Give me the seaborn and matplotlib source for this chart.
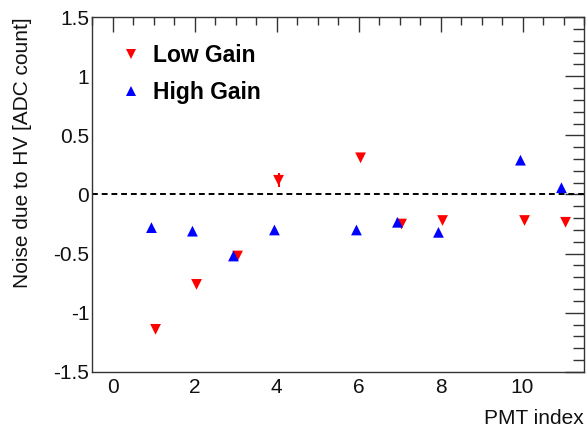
import numpy as np
import pandas as pd
import matplotlib
matplotlib.use("Agg")
import matplotlib.pyplot as plt
from matplotlib.ticker import MultipleLocator
import seaborn as sns

# PMT indices and measured HV noise (ADC counts)
pmt_index = [1, 2, 3, 4, 6, 7, 8, 10, 11]
low_gain = [-1.14, -0.76, -0.52, 0.12, 0.31, -0.25, -0.22, -0.22, -0.235]
low_gain_err = [0.0, 0.0, 0.0, 0.06, 0.0, 0.0, 0.0, 0.0, 0.0]
high_gain = [-0.28, -0.31, -0.52, -0.30, -0.30, -0.235, -0.32, 0.29, 0.057]
high_gain_err = [0.0, 0.0, 0.0, 0.0, 0.0, 0.0, 0.0, 0.0, 0.0]
series_names = ["Low Gain", "High Gain"]

sns.set_theme(style="white")
plt.rcParams["font.family"] = ["Liberation Sans", "DejaVu Sans"]

shift = {"Low Gain": 0.05, "High Gain": -0.05}
df = pd.concat([
    pd.DataFrame({"pmt": pmt_index, "noise": low_gain, "err": low_gain_err,
                  "gain": series_names[0]}),
    pd.DataFrame({"pmt": pmt_index, "noise": high_gain, "err": high_gain_err,
                  "gain": series_names[1]}),
], ignore_index=True)
df["xpos"] = df["pmt"] + df["gain"].map(shift)

fig = plt.figure(figsize=(5.86, 4.32), dpi=100)
ax = fig.add_axes([0.157, 0.139, 0.8396, 0.8216])

palette = {"Low Gain": "#ff0000", "High Gain": "#0000ff"}
markers = {"Low Gain": "v", "High Gain": "^"}

for name, sub in df.groupby("gain"):
    ax.errorbar(sub["xpos"], sub["noise"], yerr=sub["err"], fmt="none",
                ecolor=palette[name], elinewidth=1.5, capsize=0, zorder=2)

sns.scatterplot(data=df, x="xpos", y="noise", hue="gain", style="gain",
                hue_order=series_names, style_order=series_names,
                palette=palette, markers=markers, s=60, linewidth=0,
                ax=ax, zorder=3)

ax.axhline(0, color="black", linestyle=(0, (3, 2)), linewidth=1.4, zorder=1)

ax.set_xlim(-0.5, 11.5)
ax.set_ylim(-1.5, 1.5)
ax.xaxis.set_major_locator(MultipleLocator(2))
ax.xaxis.set_minor_locator(MultipleLocator(0.5))
ax.yaxis.set_major_locator(MultipleLocator(0.5))
ax.yaxis.set_minor_locator(MultipleLocator(0.1))
ax.set_yticks([-1.5, -1, -0.5, 0, 0.5, 1, 1.5])
ax.set_yticklabels(["-1.5", "-1", "-0.5", "0", "0.5", "1", "1.5"])

ax.tick_params(which="both", direction="in", top=True, right=True,
               color="#333333", labelsize=15, labelcolor="#111111")
ax.tick_params(axis="y", which="major", length=14, width=1, pad=2)
ax.tick_params(axis="y", which="minor", length=8, width=1)
ax.tick_params(axis="x", which="major", length=11, width=1, pad=4)
ax.tick_params(axis="x", which="minor", length=6, width=1)
for sp in ax.spines.values():
    sp.set_color("#333333")
    sp.set_linewidth(1.0)

ax.set_xlabel("")
ax.set_ylabel("")
fig.text(0.9966, 0.032, "PMT index", ha="right", va="center", fontsize=15,
         color="#111111")
fig.text(0.038, 0.9606, "Noise due to HV [ADC count]", rotation=90,
         ha="center", va="top", fontsize=15, color="#111111")

leg = ax.legend(loc="upper left", bbox_to_anchor=(0.009, 0.982), frameon=False,
                prop={"weight": "bold", "size": 16.5}, handlelength=1.2,
                handletextpad=0.35, labelspacing=0.62, title=None)
for t in leg.get_texts():
    t.set_color("black")

fig.savefig("out.png", dpi=100)
